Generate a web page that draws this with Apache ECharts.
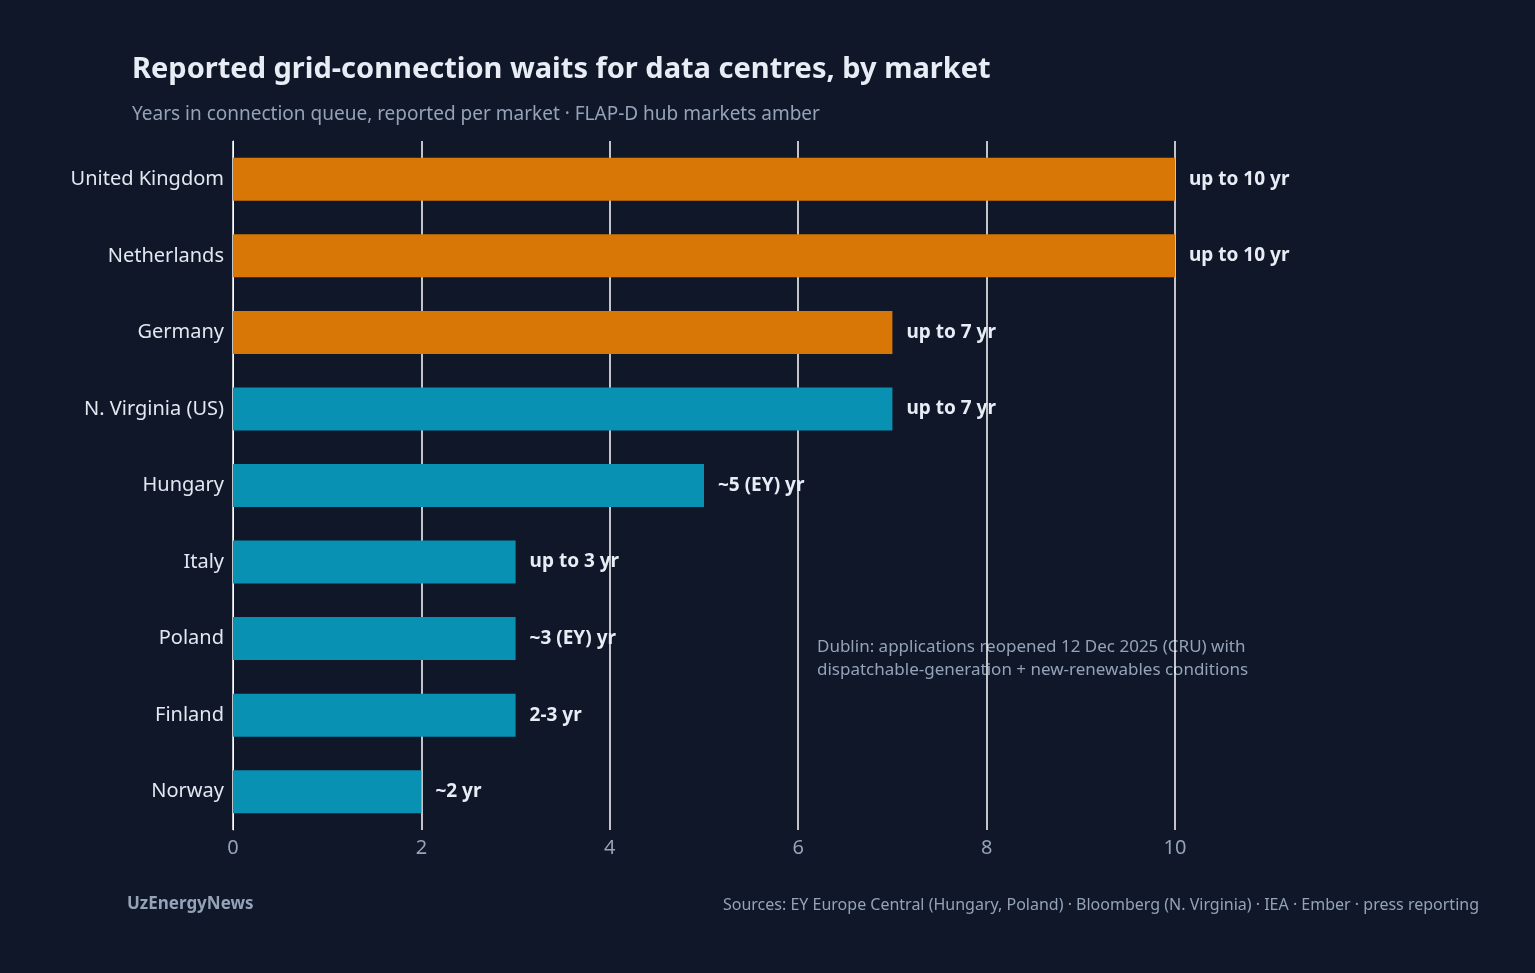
<!DOCTYPE html>
<html><head><meta charset="utf-8">
<script src="https://cdn.jsdelivr.net/npm/echarts@6/dist/echarts.min.js"></script>
<style>html,body{margin:0;background:#0f1729}#c{width:1535px;height:973px}</style>
</head><body><div id="c"></div>
<script>
const markets = ["United Kingdom","Netherlands","Germany","N. Virginia (US)","Hungary","Italy","Poland","Finland","Norway"];
const years = [10,10,7,7,5,3,3,3,2];
const labels = ["up to 10 yr","up to 10 yr","up to 7 yr","up to 7 yr","~5 (EY) yr","up to 3 yr","~3 (EY) yr","2-3 yr","~2 yr"];
const hub = [true,true,true,false,false,false,false,false,false];
const xTicks = [0,2,4,6,8,10];

const font = "'Noto Sans', 'Open Sans', sans-serif";
const chart = echarts.init(document.getElementById("c"));
chart.setOption({
  backgroundColor: "#0f1729",
  textStyle: { fontFamily: font },
  title: [
    { text: "Reported grid-connection waits for data centres, by market", left: 127, top: 50,
      textStyle: { color: "#e8edf5", fontSize: 29, fontWeight: "bold", fontFamily: font } },
    { text: "Years in connection queue, reported per market · FLAP-D hub markets amber", left: 127, top: 100,
      textStyle: { color: "#94a3b8", fontSize: 19, fontWeight: "normal", fontFamily: font } }
  ],
  grid: { left: 233, right: 360, top: 141, bottom: 143, containLabel: false },
  xAxis: {
    type: "value", min: 0, max: 10, interval: 2,
    axisLine: { show: false }, axisTick: { show: false },
    splitLine: { lineStyle: { color: "#ffffff", width: 1.5 } },
    axisLabel: { color: "#94a3b8", fontSize: 20, margin: 8, formatter: v => xTicks.includes(v) ? String(v) : "" }
  },
  yAxis: {
    type: "category", data: markets, inverse: true,
    axisLine: { show: true, lineStyle: { color: "#ffffff", width: 1 } },
    axisTick: { show: false },
    axisLabel: { color: "#e2e8f0", fontSize: 20, margin: 9 }
  },
  series: [{
    type: "bar", barWidth: 43,
    data: years.map((v, i) => ({ value: v, itemStyle: { color: hub[i] ? "#d97706" : "#0891b2" } })),
    label: { show: true, position: "right", distance: 14, color: "#e8edf5", fontSize: 19, fontWeight: "bold",
      formatter: p => labels[p.dataIndex] }
  }],
  graphic: [
    { type: "text", left: 817, top: 636, style: { text: "Dublin: applications reopened 12 Dec 2025 (CRU) with\ndispatchable-generation + new-renewables conditions",
      fill: "#94a3b8", font: "17px " + font, lineHeight: 23 } },
    { type: "text", left: 127, top: 896, style: { text: "UzEnergyNews", fill: "#94a3b8", font: "bold 17px " + font } },
    { type: "text", right: 56, top: 897, style: { text: "Sources: EY Europe Central (Hungary, Poland) · Bloomberg (N. Virginia) · IEA · Ember · press reporting",
      fill: "#94a3b8", font: "16px " + font } }
  ]
});
</script></body></html>
